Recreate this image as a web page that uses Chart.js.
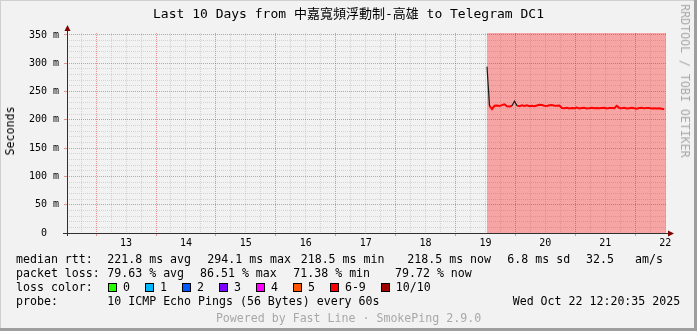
<!DOCTYPE html>
<html lang="zh-Hant">
<head>
  <meta charset="UTF-8">
  <title>Last 10 Days from 中嘉寬頻浮動制-高雄 to Telegram DC1</title>
  <script src="https://cdn.jsdelivr.net/npm/chart.js"></script>
  <style>
    body { margin: 0; background: #fff; }
    .frame {
      position: relative;
      width: 697px;
      height: 331px;
      background: #f2f2f2;
      overflow: hidden;
      font-family: "DejaVu Sans Mono", "Noto Sans CJK TC", monospace;
      color: #000;
      box-shadow: inset -3px -3px 0 #9e9e9e, inset 1px 1px 0 #d0d0d0;
    }
    .frame canvas { position: absolute; left: 0; top: 0; }
    .t { position: absolute; white-space: pre; font-size: 11.6px; line-height: 14px; }
    .title { left: 0; width: 697px; top: 6px; text-align: center; font-size: 13px; line-height: 16px; }
    .vlabel { left: 10px; top: 131px; transform: translate(-50%, -50%) rotate(-90deg); }
    .brand { left: 685px; top: 81px; color: #a8a8a8; transform: translate(-50%, -50%) rotate(90deg); }
    .powered { left: 0; width: 697px; text-align: center; color: #a8a8a8; }
    .legend { position: absolute; left: 108px; top: 280px; white-space: nowrap; font-size: 11.6px; line-height: 14px; }
    .legend .box {
      display: inline-block; width: 7px; height: 7px; border: 1px solid #000;
      margin-right: 6px; vertical-align: -1px;
    }
    .legend .lbl { display: inline-block; margin-right: 15px; }
  </style>
</head>
<body>
  <div class="frame" id="frame">
    <canvas id="chart" width="697" height="331"></canvas>
    <div class="t title">Last 10 Days from 中嘉寬頻浮動制-高雄 to Telegram DC1</div>
    <div class="t vlabel">Seconds</div>
    <div class="t brand">RRDTOOL / TOBI OETIKER</div>
  </div>
  <script>
    // x axis in days of October 2025 (day + hour/24); window = last 10 days up to Oct 22 12:20
    const xMin = 12.514;
    const xMax = 22.514;
    const yMax = 353.5;
    const dayLabels = [13, 14, 15, 16, 17, 18, 19, 20, 21, 22];
    const yLabels = [0, 50, 100, 150, 200, 250, 300, 350];

    // median rtt (ms), one sample per hour starting Oct 19 ~12:37
    const medianStart = 19.526;
    const medianStep = 1 / 24;
    const medianRtt = [
      294.1, 224.5, 219.0, 224.8, 225.3, 224.6, 226.0, 227.5, 224.0, 223.6,
      224.9, 232.8, 225.1, 224.2, 225.6, 224.7, 225.9, 224.3, 225.0, 224.1,
      225.4, 226.8, 226.2, 225.0, 224.6, 225.8, 226.3, 225.1, 224.8, 225.2,
      221.0, 220.6, 221.4, 220.2, 221.1, 220.5, 221.6, 220.1, 220.8, 221.3,
      219.9, 220.7, 221.2, 220.4, 221.0, 220.3, 220.9, 221.5, 220.2, 220.8,
      221.1, 220.6, 224.9, 220.9, 220.4, 221.3, 220.1, 220.7, 221.2, 220.5,
      219.8, 220.9, 221.4, 220.3, 220.8, 221.0, 220.2, 220.6, 219.9, 220.4,
      219.5, 218.5
    ];
    // samples where the smoke (ping spread) shows dark
    const smokeSamples = [0, 11];

    // loss background: every sample had 6-9 of 10 pings lost
    const lossBandStart = 19.526;
    const lossBandEnd = 22.514;

    const rttStats = [['221.8 ms avg', 107.3], ['294.1 ms max', 207.3], ['218.5 ms min', 300.7],
                      ['218.5 ms now', 407.3], ['6.8 ms sd', 507.3], ['32.5', 586], ['am/s', 635]];
    const lossStats = [['79.63 % avg', 107.3], ['86.51 % max', 200], ['71.38 % min', 293.3], ['79.72 % now', 395]];
    const lossColors = ['#26ff00', '#00b8ff', '#0059ff', '#7e00ff', '#ff00ff', '#ff5500', '#ff0000', '#a10000'];
    const lossLabels = ['0', '1', '2', '3', '4', '5', '6-9', '10/10'];

    const MAJOR = 'rgba(215, 50, 50, 0.5)';
    const MINOR = 'rgba(140, 140, 140, 0.3)';

    // text block under the graph
    const frame = document.getElementById('frame');
    function addText(str, x, y, cls) {
      const d = document.createElement('div');
      d.className = 't' + (cls ? ' ' + cls : '');
      d.textContent = str;
      if (x !== null) d.style.left = x + 'px';
      d.style.top = y + 'px';
      frame.appendChild(d);
    }
    addText('median rtt:', 16, 251.5);
    rttStats.forEach(s => addText(s[0], s[1], 251.5));
    addText('packet loss:', 16, 265.7);
    lossStats.forEach(s => addText(s[0], s[1], 265.7));
    addText('loss color:', 16, 280);
    const legend = document.createElement('div');
    legend.className = 'legend';
    lossColors.forEach((c, i) => {
      legend.insertAdjacentHTML('beforeend',
        '<span class="box" style="background:' + c + '"></span><span class="lbl">' + lossLabels[i] + '</span>');
    });
    frame.appendChild(legend);
    addText('probe:', 16, 294);
    addText('10 ICMP Echo Pings (56 Bytes) every 60s', 107.3, 294);
    addText('Wed Oct 22 12:20:35 2025', 512.7, 294);
    addText('Powered by Fast Line · SmokePing 2.9.0', null, 310.7, 'powered');

    const axisArrows = {
      id: 'axisArrows',
      afterDraw(chart) {
        const { ctx, chartArea: a } = chart;
        ctx.save();
        ctx.strokeStyle = '#303030';
        ctx.lineWidth = 1;
        ctx.beginPath();
        ctx.moveTo(a.left + 0.5, a.bottom + 3);
        ctx.lineTo(a.left + 0.5, a.top - 2);
        ctx.moveTo(a.left - 4, a.bottom + 0.5);
        ctx.lineTo(a.right + 2, a.bottom + 0.5);
        ctx.stroke();
        ctx.fillStyle = '#800000';
        ctx.beginPath();
        ctx.moveTo(a.left + 0.5, a.top - 8);
        ctx.lineTo(a.left - 2.5, a.top - 2);
        ctx.lineTo(a.left + 3.5, a.top - 2);
        ctx.closePath();
        ctx.fill();
        ctx.beginPath();
        ctx.moveTo(a.right + 8, a.bottom + 0.5);
        ctx.lineTo(a.right + 2, a.bottom - 2.5);
        ctx.lineTo(a.right + 2, a.bottom + 3.5);
        ctx.closePath();
        ctx.fill();
        ctx.restore();
      }
    };

    const isMajorX = v => Math.abs(v - Math.round(v)) < 1e-6;
    const isNoon = v => Math.abs(v - Math.round(v - 0.5) - 0.5) < 1e-6;

    const chart = new Chart(document.getElementById('chart'), {
      type: 'line',
      data: {
        datasets: [
          {
            label: 'median rtt',
            data: medianRtt.map((v, i) => ({ x: medianStart + i * medianStep, y: v })),
            borderColor: '#ff0000',
            borderWidth: 2,
            pointRadius: 0,
            tension: 0,
            segment: {
              borderColor: c => (smokeSamples.includes(c.p0DataIndex) || smokeSamples.includes(c.p1DataIndex)) ? '#1a1a1a' : undefined,
              borderWidth: c => (smokeSamples.includes(c.p0DataIndex) || smokeSamples.includes(c.p1DataIndex)) ? 1.2 : undefined
            },
            order: 1
          },
          {
            label: 'loss 6-9',
            data: [{ x: lossBandStart, y: yMax }, { x: lossBandEnd, y: yMax }],
            borderWidth: 0,
            pointRadius: 0,
            backgroundColor: 'rgba(255, 0, 0, 0.32)',
            fill: 'origin',
            order: 2
          }
        ]
      },
      options: {
        responsive: false,
        animation: false,
        layout: { padding: { left: 0, top: 33, right: 31, bottom: 78 } },
        plugins: { legend: { display: false }, tooltip: { enabled: false }, title: { display: false } },
        scales: {
          x: {
            type: 'linear',
            min: xMin,
            max: xMax,
            afterBuildTicks: scale => {
              const ticks = [];
              for (let v = 12.75; v <= xMax; v += 0.25) ticks.push({ value: Math.round(v * 100) / 100 });
              scale.ticks = ticks;
            },
            afterFit: scale => { scale.height = 20; },
            ticks: {
              autoSkip: false,
              maxRotation: 0,
              padding: 1,
              color: '#000',
              font: { family: 'DejaVu Sans Mono', size: 10 },
              callback: v => {
                if (!isNoon(v)) return '';
                const d = Math.round(v - 0.5);
                return dayLabels.includes(d) ? String(d) : '';
              }
            },
            grid: {
              color: c => isMajorX(c.tick.value) ? MAJOR : MINOR,
              tickColor: c => isMajorX(c.tick.value) ? MAJOR : 'rgba(0,0,0,0)',
              tickLength: 3
            },
            border: { display: false, dash: [1, 1] }
          },
          y: {
            min: 0,
            max: yMax,
            afterBuildTicks: scale => {
              const ticks = [];
              for (let v = 0; v <= 350; v += 10) ticks.push({ value: v });
              scale.ticks = ticks;
            },
            afterFit: scale => { scale.width = 67; },
            ticks: {
              autoSkip: false,
              padding: 5,
              color: '#000',
              font: { family: 'DejaVu Sans Mono', size: 10 },
              callback: v => yLabels.includes(v) ? (v === 0 ? '0  ' : v + ' m') : ''
            },
            grid: {
              color: c => yLabels.includes(c.tick.value) ? MAJOR : MINOR,
              tickColor: c => yLabels.includes(c.tick.value) ? MAJOR : 'rgba(0,0,0,0)',
              tickLength: 3
            },
            border: { display: false, dash: [1, 1] }
          }
        }
      },
      plugins: [axisArrows]
    });
  </script>
</body>
</html>
